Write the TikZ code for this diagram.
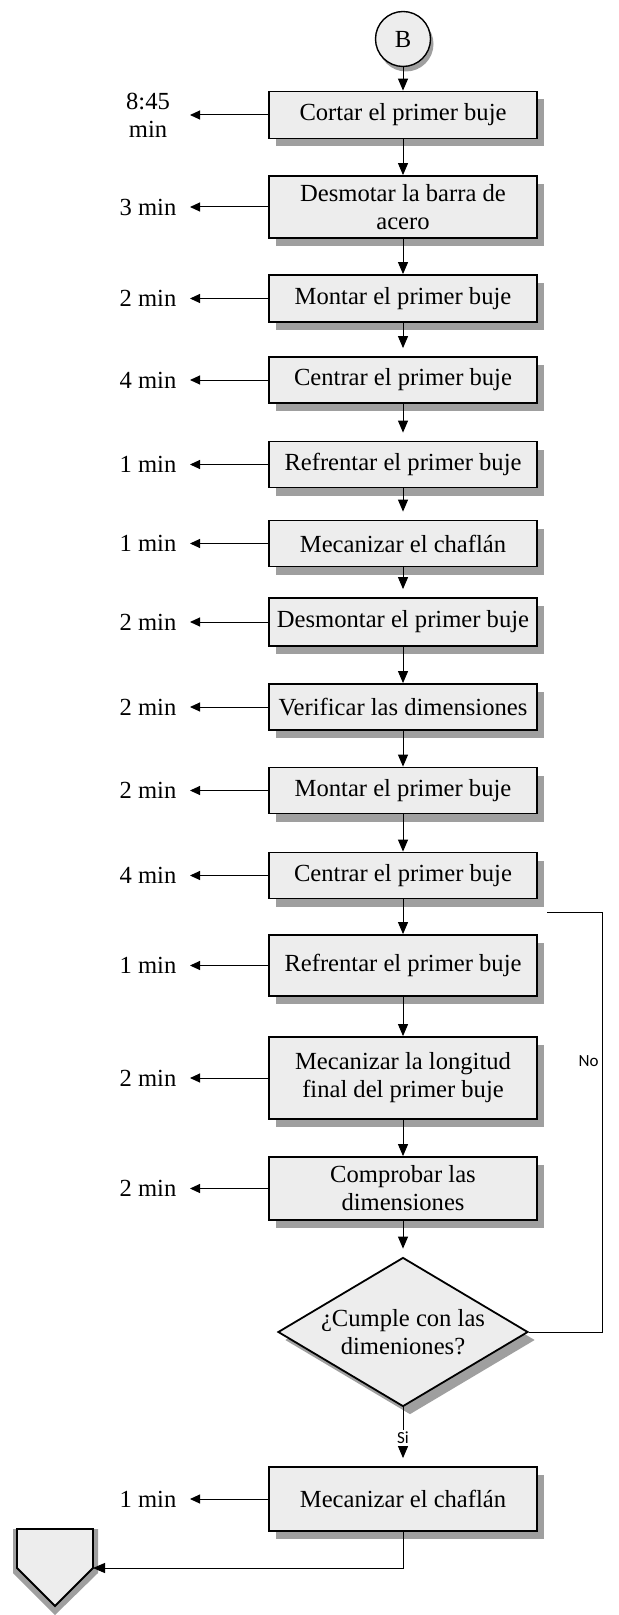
\documentclass[tikz,border=0pt]{standalone}
\usepackage{fontspec}
\setmainfont{Liberation Serif}
\newfontfamily\labelfont{Carlito}
\usetikzlibrary{shapes.geometric,shadows,arrows.meta}

\begin{document}
\begin{tikzpicture}[x=0.5pt,y=-0.5pt,
  font=\fontsize{12.3}{14}\selectfont,
  shade box/.style={drop shadow={shadow xshift=3.5pt, shadow yshift=-4pt, fill=gray!75, opacity=1}},
  stepbox/.style={draw=black, line width=0.9pt, fill=gray!14, minimum width=134pt,
    inner sep=2pt, align=center, shade box},
  decision/.style={diamond, draw=black, line width=0.9pt, fill=gray!14, aspect=1.68,
    minimum width=125pt, minimum height=74.5pt, inner sep=0pt, align=center, shade box},
  connector/.style={circle, draw=black, line width=0.7pt, fill=gray!14, minimum size=27.5pt,
    inner sep=0pt, drop shadow={shadow xshift=1.5pt, shadow yshift=-2.5pt, fill=gray!75, opacity=1}},
  timelabel/.style={align=center, inner sep=1pt},
  flow/.style={line width=0.5pt, -{Triangle[length=6pt,width=5pt]}},
  flowgap/.style={flow, shorten >=4pt},
  timearrow/.style={line width=0.5pt, -{Triangle[length=5pt,width=4.5pt]}},
  plain/.style={line width=0.5pt},
  branch/.style={font=\labelfont\fontsize{8.5}{10}\selectfont, inner sep=1pt}
]
\useasboundingbox (0,0) rectangle (618,1615);

% start connector
\node[connector] (B) at (403,39) {B};

% process steps
\node[stepbox, minimum height=23.5pt] (b1)  at (403,115)  {Cortar el primer buje};
\node[stepbox, minimum height=31pt]   (b2)  at (403,207)  {Desmotar la barra de\\acero};
\node[stepbox, minimum height=23.5pt] (b3)  at (403,298.5) {Montar el primer buje};
\node[stepbox, minimum height=23pt]   (b4)  at (403,380)  {Centrar el primer buje};
\node[stepbox, minimum height=23pt]   (b5)  at (403,464.5) {Refrentar el primer buje};
\node[stepbox, minimum height=23pt]   (b6)  at (403,543.5) {Mecanizar el chaflán};
\node[stepbox, minimum height=24pt]   (b7)  at (403,622)  {Desmontar el primer buje};
\node[stepbox, minimum height=23pt]   (b8)  at (403,707)  {Verificar las dimensiones};
\node[stepbox, minimum height=23pt]   (b9)  at (403,790.5) {Montar el primer buje};
\node[stepbox, minimum height=23pt]   (b10) at (403,875.5) {Centrar el primer buje};
\node[stepbox, minimum height=30.5pt] (b11) at (403,965.5) {Refrentar el primer buje};
\node[stepbox, minimum height=41pt]   (b12) at (403,1078) {Mecanizar la longitud\\final del primer buje};
\node[stepbox, minimum height=31.5pt] (b13) at (403,1188.5) {Comprobar las\\dimensiones};
\node[decision] (dia) at (403,1332) {¿Cumple con las\\dimeniones?};
\node[stepbox, minimum height=32pt]   (b14) at (403,1499) {Mecanizar el chaflán};

% off-page connector at the end
\fill[gray!75] (13,1529) -- (98,1529) -- (98,1573) -- (55,1615) -- (13,1573) -- cycle;
\filldraw[fill=gray!14, line width=0.9pt] (17,1529) -- (93,1529) -- (93,1568) -- (55,1606) -- (17,1568) -- cycle;
\coordinate (offR) at (93,1568);

% time labels
\node[timelabel] (t1)  at (148,115)  {8:45\\min};
\node[timelabel] (t2)  at (148,207)  {3 min};
\node[timelabel] (t3)  at (148,298.5) {2 min};
\node[timelabel] (t4)  at (148,380)  {4 min};
\node[timelabel] (t5)  at (148,464.5) {1 min};
\node[timelabel] (t6)  at (148,543.5) {1 min};
\node[timelabel] (t7)  at (148,622)  {2 min};
\node[timelabel] (t8)  at (148,707)  {2 min};
\node[timelabel] (t9)  at (148,790.5) {2 min};
\node[timelabel] (t10) at (148,875.5) {4 min};
\node[timelabel] (t11) at (148,965.5) {1 min};
\node[timelabel] (t12) at (148,1078) {2 min};
\node[timelabel] (t13) at (148,1188.5) {2 min};
\node[timelabel] (t14) at (148,1499) {1 min};

\coordinate (tx) at (190,0);
\foreach \i in {1,...,14}{
  \draw[timearrow] (b\i.west) -- (b\i.west -| tx);
}

% main flow
\draw[flow] (B) -- (b1);
\draw[flow] (b1) -- (b2);
\draw[flow] (b2) -- (b3);
\draw[flowgap] (b3) -- (b4);
\draw[flowgap] (b4) -- (b5);
\draw[flowgap] (b5) -- (b6);
\draw[flowgap] (b6) -- (b7);
\draw[flow] (b7) -- (b8);
\draw[flow] (b8) -- (b9);
\draw[flow] (b9) -- (b10);
\draw[flow] (b10) -- (b11);
\draw[flow] (b11) -- (b12);
\draw[flow] (b12) -- (b13);
\draw[flowgap] (b13) -- (dia);
\draw[flowgap] (dia.south) -- node[branch, fill=white, pos=0.52] (si) {Si} (b14.north);

% rework loop
\coordinate (noTop) at (602,912);
\coordinate (noEnd) at (547,912);
\draw[plain] (dia.east) -| (noTop) -- (noEnd);
\node[branch, anchor=east] (no) at (601,1061) {No};

% to the off-page connector
\draw[flow] (b14.south) |- (offR);
\end{tikzpicture}
\end{document}
